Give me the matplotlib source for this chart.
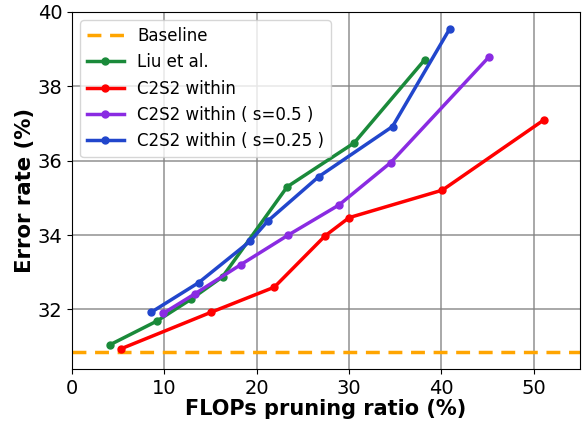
import matplotlib
matplotlib.use("Agg")
import matplotlib.pyplot as plt

baseline = 30.86
liu_x = [4.1, 9.2, 12.85, 16.3, 23.3, 30.55, 38.2]
liu_y = [31.05, 31.69, 32.27, 32.88, 35.30, 36.48, 38.72]
red_x = [5.27, 15.1, 21.9, 27.4, 30.0, 40.1, 51.1]
red_y = [30.94, 31.93, 32.6, 33.98, 34.47, 35.21, 37.1]
pur_x = [9.9, 13.3, 18.3, 23.4, 28.9, 34.5, 45.1]
pur_y = [31.9, 32.42, 33.21, 34.0, 34.81, 35.95, 38.78]
blu_x = [8.6, 13.7, 19.3, 21.2, 26.7, 34.7, 40.9]
blu_y = [31.93, 32.72, 33.84, 34.38, 35.57, 36.92, 39.55]

fig = plt.figure(figsize=(5.83, 4.21), dpi=100)
ax = fig.add_axes([72/583, 1-369/421, (580-72)/583, (369-12)/421])
ax.axhline(baseline, color='orange', ls='--', lw=2.5, label='Baseline', dashes=(4, 2.5))
ax.plot(liu_x, liu_y, '-o', color='#1a8a3a', lw=2.5, ms=5, label='Liu et al.')
ax.plot(red_x, red_y, '-o', color='red', lw=2.5, ms=5, label='C2S2 within')
ax.plot(pur_x, pur_y, '-o', color='#8a2be2', lw=2.5, ms=5, label='C2S2 within ( s=0.5 )')
ax.plot(blu_x, blu_y, '-o', color='#2146cc', lw=2.5, ms=5, label='C2S2 within ( s=0.25 )')
ax.set_xlim(0, 55)
ax.set_ylim(30.4, 40)
ax.set_xticks([0, 10, 20, 30, 40, 50])
ax.set_yticks([32, 34, 36, 38, 40])
ax.tick_params(labelsize=14)
ax.grid(True, color='gray', lw=1.2, alpha=0.8)
ax.set_xlabel('FLOPs pruning ratio (%)', fontsize=15, fontweight='bold', labelpad=1)
ax.set_ylabel('Error rate (%)', fontsize=15.3, fontweight='bold', labelpad=2)
ax.legend(loc='upper left', fontsize=12, handlelength=2.2)
fig.savefig('out.png', dpi=100)
